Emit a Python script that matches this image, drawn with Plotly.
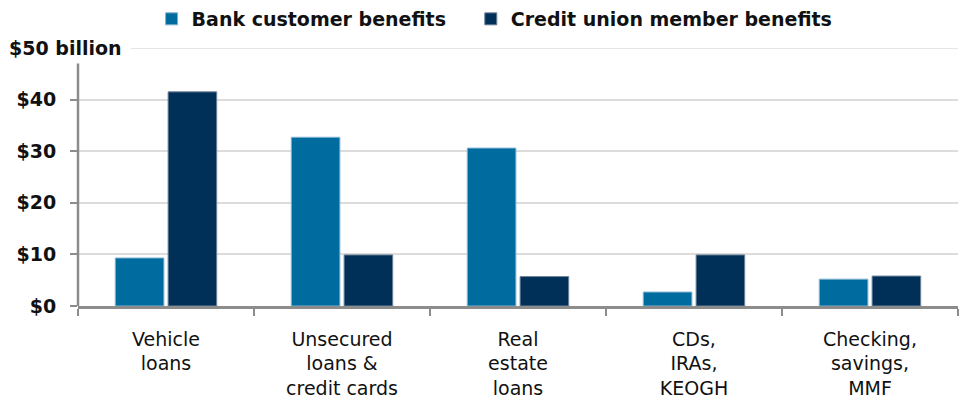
import plotly.graph_objects as go

categories = ["Vehicle<br>loans", "Unsecured<br>loans &<br>credit cards", "Real<br>estate<br>loans",
              "CDs,<br>IRAs,<br>KEOGH", "Checking,<br>savings,<br>MMF"]
bank_benefits = [9.3, 32.7, 30.6, 2.7, 5.2]
cu_benefits = [41.5, 9.9, 5.7, 9.9, 5.8]
y_tickvals = [0, 10, 20, 30, 40]
y_ticktext = ["$0", "$10", "$20", "$30", "$40"]

BANK = "#006b9e"
CU = "#003057"
FONT = "DejaVu Sans"
TXT = "#111111"
FS = 19
PAD = "\u00a0\u00a0\u00a0"  # extra spacing after the first legend entry

fig = go.Figure()
fig.add_bar(x=categories, y=bank_benefits, name="Bank customer benefits" + PAD,
            marker=dict(color=BANK, line=dict(color="#7fb2cf", width=1)))
fig.add_bar(x=categories, y=cu_benefits, name="Credit union member benefits",
            marker=dict(color=CU, line=dict(color="#6d8299", width=1)))

fig.update_layout(
    width=966, height=400,
    margin=dict(l=78, r=8, t=48, b=94),
    plot_bgcolor="white", paper_bgcolor="white",
    barmode="group", bargap=0.4, bargroupgap=0.08,
    font=dict(family=FONT, size=FS, color=TXT),
    legend=dict(orientation="h", x=0.512, xanchor="center", y=1.0, yanchor="top",
                xref="container", yref="container",
                font=dict(size=FS, weight="bold"), itemwidth=30,
                traceorder="normal"),
    showlegend=True,
)

fig.update_xaxes(
    automargin=False,
    showline=True, linecolor="#8c8c8c", linewidth=2.5,
    ticks="outside", tickson="boundaries", ticklen=7, tickcolor="#8c8c8c", tickwidth=2,
    ticklabelstandoff=14,
    tickfont=dict(size=FS, color=TXT), showgrid=False,
)
fig.update_yaxes(
    automargin=False,
    range=[0, 50], tickvals=y_tickvals, ticktext=y_ticktext,
    showline=False, showgrid=True, gridcolor="#dcdcdc", gridwidth=1.5,
    zeroline=False,
    ticks="outside", ticklen=7, tickcolor="#8c8c8c", tickwidth=2,
    ticklabelstandoff=10,
    tickfont=dict(size=FS, color=TXT, weight="bold"),
)

# vertical axis line stops short of the top gridline
fig.add_shape(type="line", xref="paper", yref="y", x0=0, x1=0, y0=0, y1=47,
              line=dict(color="#8c8c8c", width=2.5), layer="above")
# top gridline with its unit label
fig.add_shape(type="line", xref="paper", yref="y", x0=0.06, x1=1, y0=50, y1=50,
              line=dict(color="#dcdcdc", width=1.5), layer="below")
fig.add_annotation(text="$50 billion", xref="paper", yref="y", x=-0.081, y=50,
                   xanchor="left", yanchor="middle", showarrow=False,
                   font=dict(size=FS, color=TXT, weight="bold"))

fig.write_html("out.html")
